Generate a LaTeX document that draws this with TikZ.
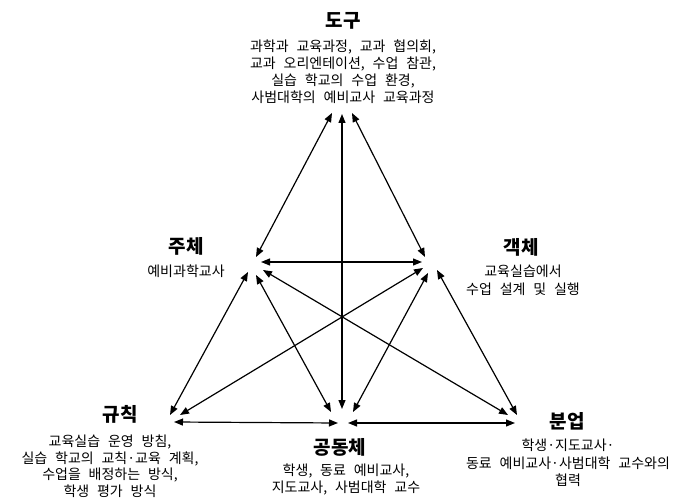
\documentclass[tikz,border=0pt]{standalone}
\usepackage{fontspec}
\usetikzlibrary{arrows.meta}
\newfontfamily\kr{Noto Sans CJK KR}[WordSpace=2.5]
\begin{document}
\begin{tikzpicture}[x=1pt,y=-1pt,
  link/.style={line width=1.2pt,{Triangle[length=9pt,width=7pt]}-{Triangle[length=9pt,width=7pt]}},
  title/.style={inner sep=0pt,font=\kr\bfseries\fontsize{19}{21}\selectfont},
  body/.style={inner sep=0pt,align=center,anchor=north,font=\kr\fontsize{14}{17}\selectfont}]
\useasboundingbox (0,0) rectangle (689,503);
% texts
\node[title] (tT) at (343,21) {도구};
\node[body] (tB) at (343,40) {과학과 교육과정, 교과 협의회,\\교과 오리엔테이션, 수업 참관,\\실습 학교의 수업 환경,\\사범대학의 예비교사 교육과정};
\node[title] (sT) at (186,246) {주체};
\node[body] (sB) at (186,265) {예비과학교사};
\node[title] (oT) at (521,247) {객체};
\node[body,font=\kr\fontsize{14}{18}\selectfont] (oB) at (523,265) {교육실습에서\\수업 설계 및 실행};
\node[title] (rT) at (120,414) {규칙};
\node[body,font=\kr\fontsize{14}{16.5}\selectfont] (rB) at (110,435) {교육실습 운영 방침,\\실습 학교의 교칙·교육 계획,\\수업을 배정하는 방식,\\학생 평가 방식};
\node[title] (cT) at (340,447) {공동체};
\node[body] (cB) at (346,464) {학생, 동료 예비교사,\\지도교사, 사범대학 교수};
\node[title] (dT) at (567,421) {분업};
\node[body,font=\kr\fontsize{14}{17.5}\selectfont] (dB) at (568,439) {학생·지도교사·\\동료 예비교사·사범대학 교수와의\\협력};
% arrow end points
\coordinate (t1) at (332,113);
\coordinate (t2) at (342,114);
\coordinate (t3) at (352,113);
\coordinate (s1) at (256,257);
\coordinate (s2) at (261,262);
\coordinate (s3) at (248,272);
\coordinate (s4) at (256,275);
\coordinate (s5) at (263,270);
\coordinate (o1) at (425,257);
\coordinate (o2) at (422,262);
\coordinate (o3) at (423,268);
\coordinate (o4) at (428,273);
\coordinate (o5) at (437,270);
\coordinate (r1) at (170,415);
\coordinate (r2) at (180,415);
\coordinate (r3) at (174,422);
\coordinate (c1) at (331,412);
\coordinate (c2) at (342,409);
\coordinate (c3) at (353,412);
\coordinate (c4) at (338,423);
\coordinate (c5) at (348,423);
\coordinate (d1) at (508,415);
\coordinate (d2) at (517,415);
\coordinate (d3) at (515,423);
% connectors
\draw[link] (t1) -- (s1);
\draw[link] (t2) -- (c2);
\draw[link] (t3) -- (o1);
\draw[link] (s2) -- (o2);
\draw[link] (s3) -- (r1);
\draw[link] (s4) -- (c1);
\draw[link] (s5) -- (d1);
\draw[link] (o3) -- (r2);
\draw[link] (o4) -- (c3);
\draw[link] (o5) -- (d2);
\draw[link] (r3) -- (c4);
\draw[link] (c5) -- (d3);
\end{tikzpicture}
\end{document}
